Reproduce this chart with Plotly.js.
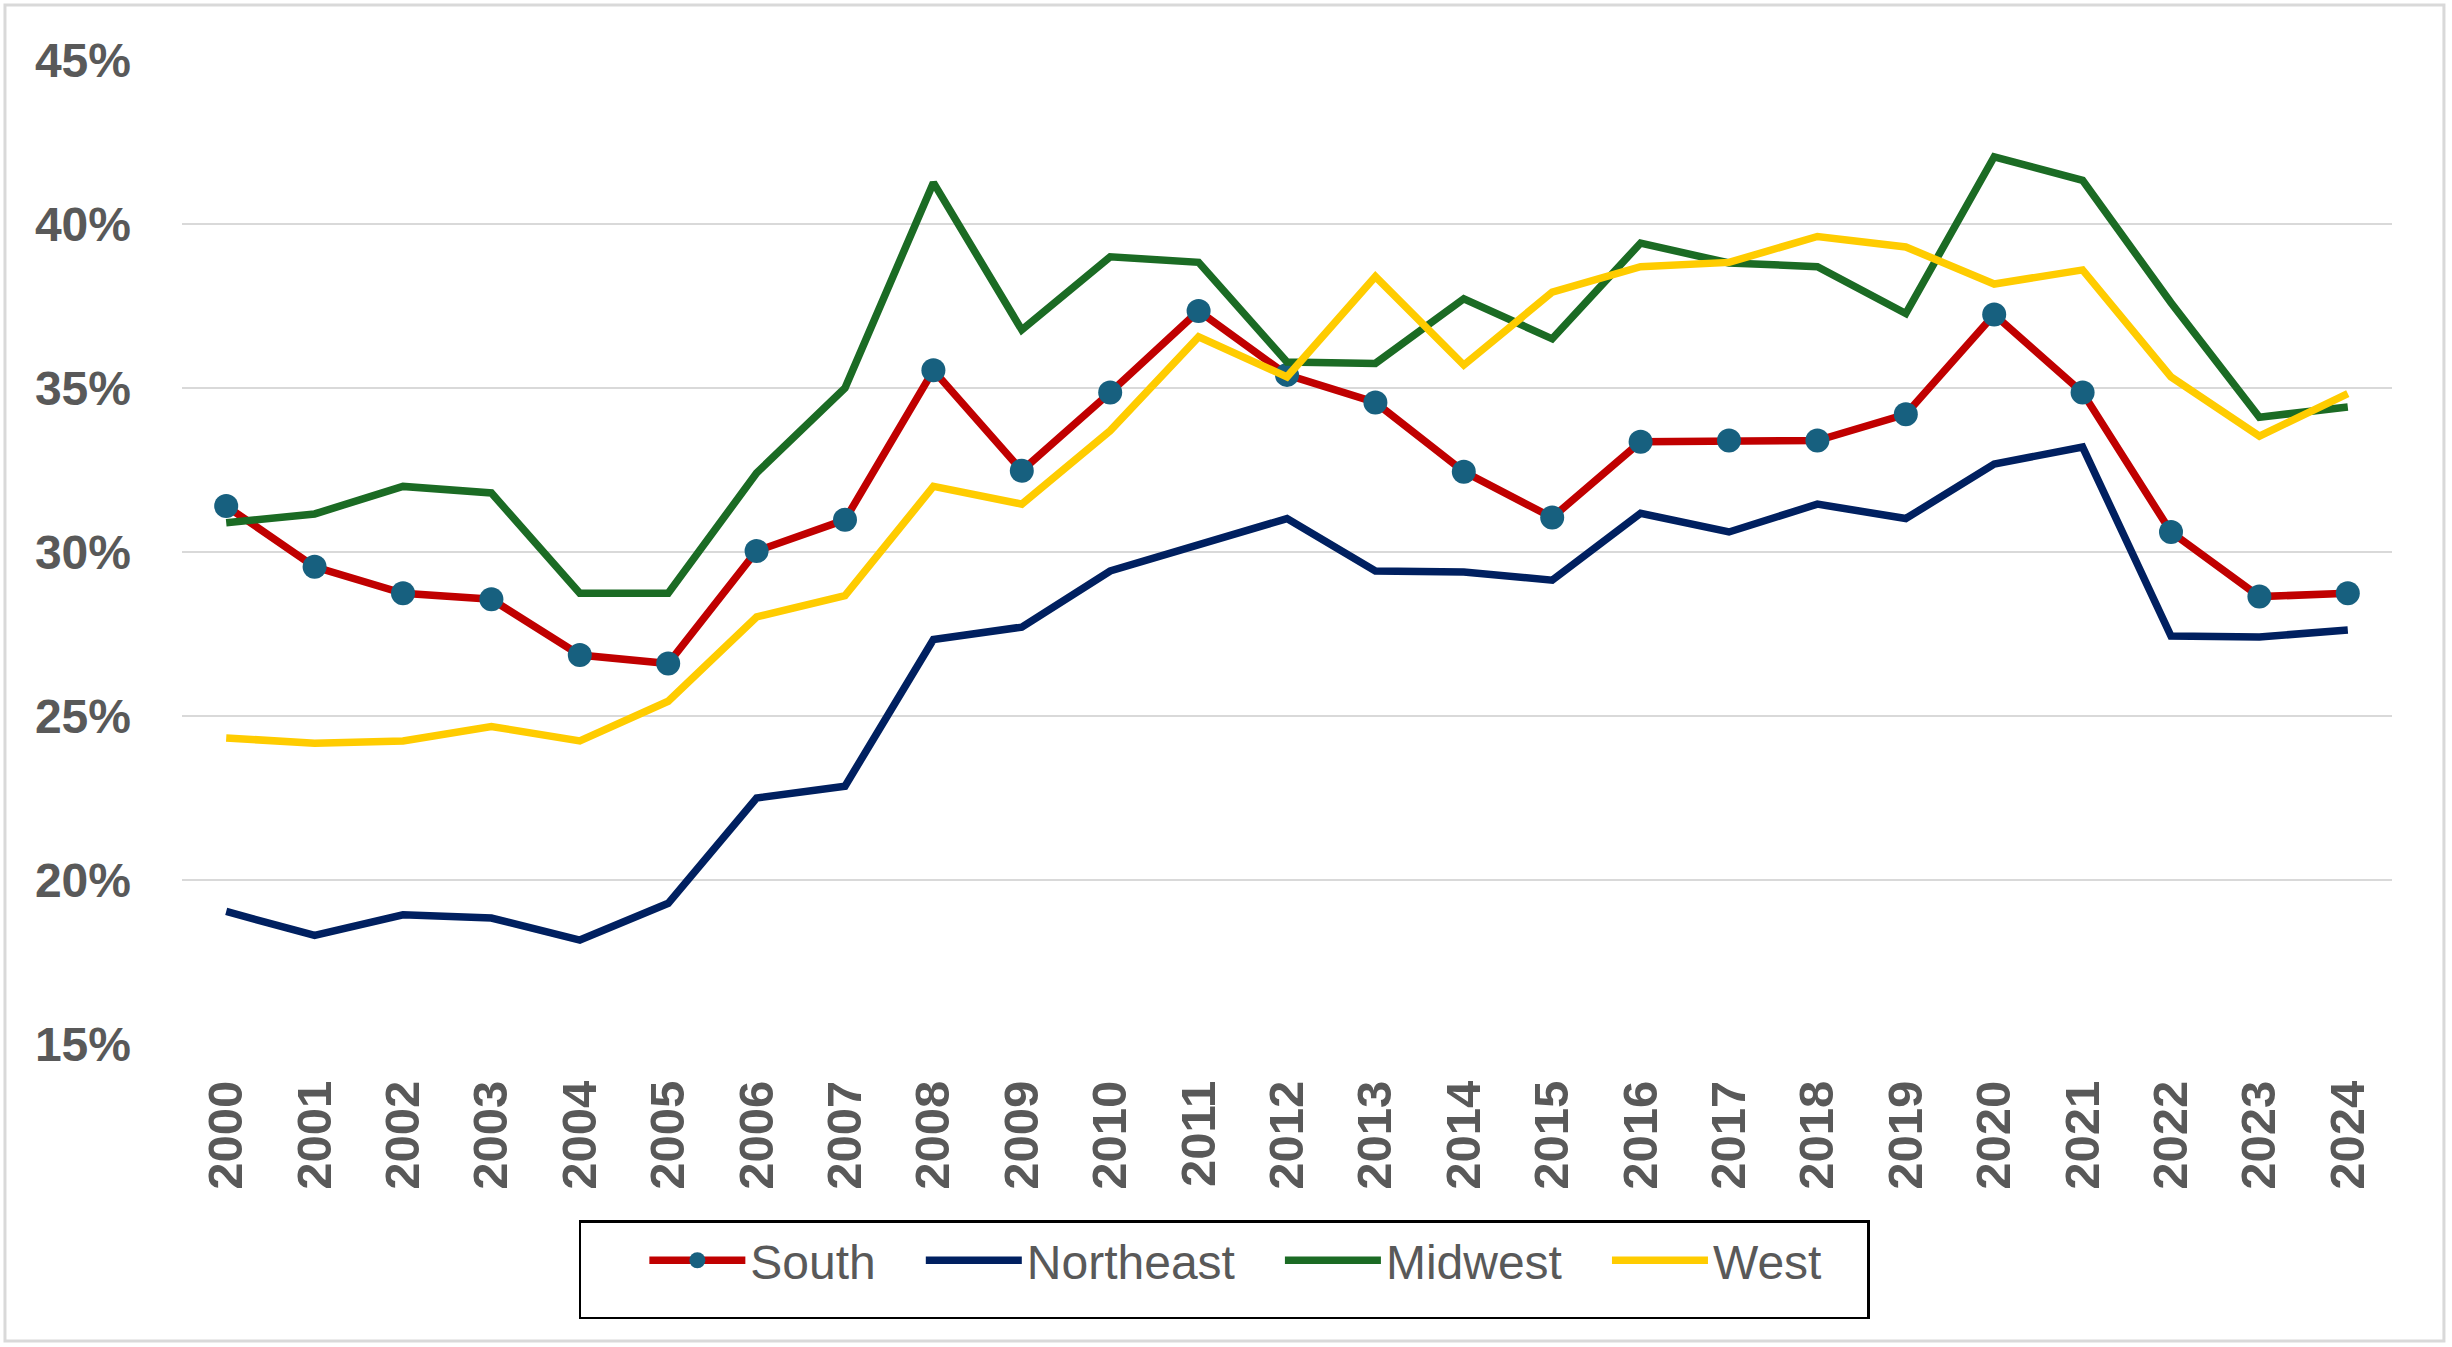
<!DOCTYPE html>
<html>
<head>
<meta charset="utf-8">
<script src="https://cdn.plot.ly/plotly-3.0.1.min.js"></script>
<style>
  html, body { margin: 0; padding: 0; background: #fff; }
  #chart { width: 2452px; height: 1347px; }
</style>
</head>
<body>
<div id="chart"></div>
<script>
// years on the category axis
var years = ['2000', '2001', '2002', '2003', '2004', '2005', '2006', '2007', '2008', '2009',
  '2010', '2011', '2012', '2013', '2014', '2015', '2016', '2017', '2018', '2019',
  '2020', '2021', '2022', '2023', '2024'];

// shares in percent
var south = [31.4, 29.55, 28.74, 28.56, 26.86, 26.6, 30.03, 30.98, 35.54, 32.48,
  34.86, 37.35, 35.4, 34.56, 32.45, 31.05, 33.36, 33.4, 33.4, 34.2,
  37.24, 34.86, 30.61, 28.64, 28.74];
var northeast = [19.04, 18.31, 18.94, 18.84, 18.17, 19.29, 22.5, 22.86, 27.33, 27.71,
  29.42, 30.24, 31.02, 29.42, 29.39, 29.14, 31.18, 30.61, 31.46, 31.02,
  32.68, 33.2, 27.44, 27.41, 27.62];
var midwest = [30.89, 31.16, 32.0, 31.8, 28.74, 28.74, 32.41, 35.0, 41.26, 36.77,
  39.0, 38.83, 35.79, 35.75, 37.72, 36.5, 39.42, 38.81, 38.7, 37.27,
  42.05, 41.33, 37.6, 34.11, 34.42];
var west = [24.33, 24.17, 24.24, 24.68, 24.24, 25.45, 28.02, 28.67, 32.0, 31.46,
  33.7, 36.56, 35.34, 38.4, 35.7, 37.92, 38.7, 38.83, 39.62, 39.3,
  38.17, 38.6, 35.34, 33.53, 34.83];

var yTicks = [15, 20, 25, 30, 35, 40, 45];

var font = 'Liberation Sans, Arial, sans-serif';
var grey = '#595959';
var lineW = 7.5;
var pad = '\u00a0\u00a0\u00a0'; // keeps legend entries apart like the original

function lineTrace(name, values, color) {
  return {
    x: years,
    y: values,
    name: name + pad,
    type: 'scatter',
    mode: 'lines',
    line: {color: color, width: lineW},
    hoverinfo: 'skip'
  };
}

var trSouth = lineTrace('South', south, '#C00000');
trSouth.mode = 'lines+markers';
trSouth.marker = {color: '#17607F', size: 24, symbol: 'circle'};

var data = [
  trSouth,
  lineTrace('Northeast', northeast, '#002060'),
  lineTrace('Midwest', midwest, '#1B6B24'),
  lineTrace('West', west, '#FFCC00')
];

var layout = {
  width: 2452,
  height: 1347,
  margin: {l: 182, r: 60, t: 60, b: 303},
  paper_bgcolor: '#fff',
  plot_bgcolor: '#fff',
  font: {family: font, color: grey},
  showlegend: true,
  xaxis: {
    type: 'category',
    range: [-0.5, 24.5],
    tickangle: -90,
    ticks: '',
    showgrid: false,
    zeroline: false,
    showline: false,
    ticklabelstandoff: 26,
    tickfont: {family: font, size: 49, color: grey, weight: 'bold'}
  },
  yaxis: {
    range: [15, 45],
    tickvals: yTicks,
    ticktext: yTicks.map(function (v) { return v + '%'; }),
    ticks: '',
    showgrid: true,
    gridcolor: '#D9D9D9',
    gridwidth: 2.5,
    zeroline: false,
    showline: false,
    ticklabelstandoff: 50,
    tickfont: {family: font, size: 48, color: grey, weight: 'bold'}
  },
  legend: {
    orientation: 'h',
    x: 0.4715,
    xanchor: 'center',
    y: -0.1789,
    yanchor: 'top',
    bgcolor: '#fff',
    bordercolor: '#000',
    borderwidth: 2.5,
    itemwidth: 96,
    title: {text: pad, side: 'left', font: {family: font, size: 64}},
    font: {family: font, size: 48, color: grey}
  },
  shapes: [{
    type: 'rect',
    xref: 'paper', yref: 'paper',
    x0: -0.0801, x1: 1.0235, y0: -0.3018, y1: 1.0559,
    line: {color: '#D9D9D9', width: 3},
    layer: 'below'
  }]
};

Plotly.newPlot('chart', data, layout, {displayModeBar: false, staticPlot: true});
</script>
</body>
</html>
